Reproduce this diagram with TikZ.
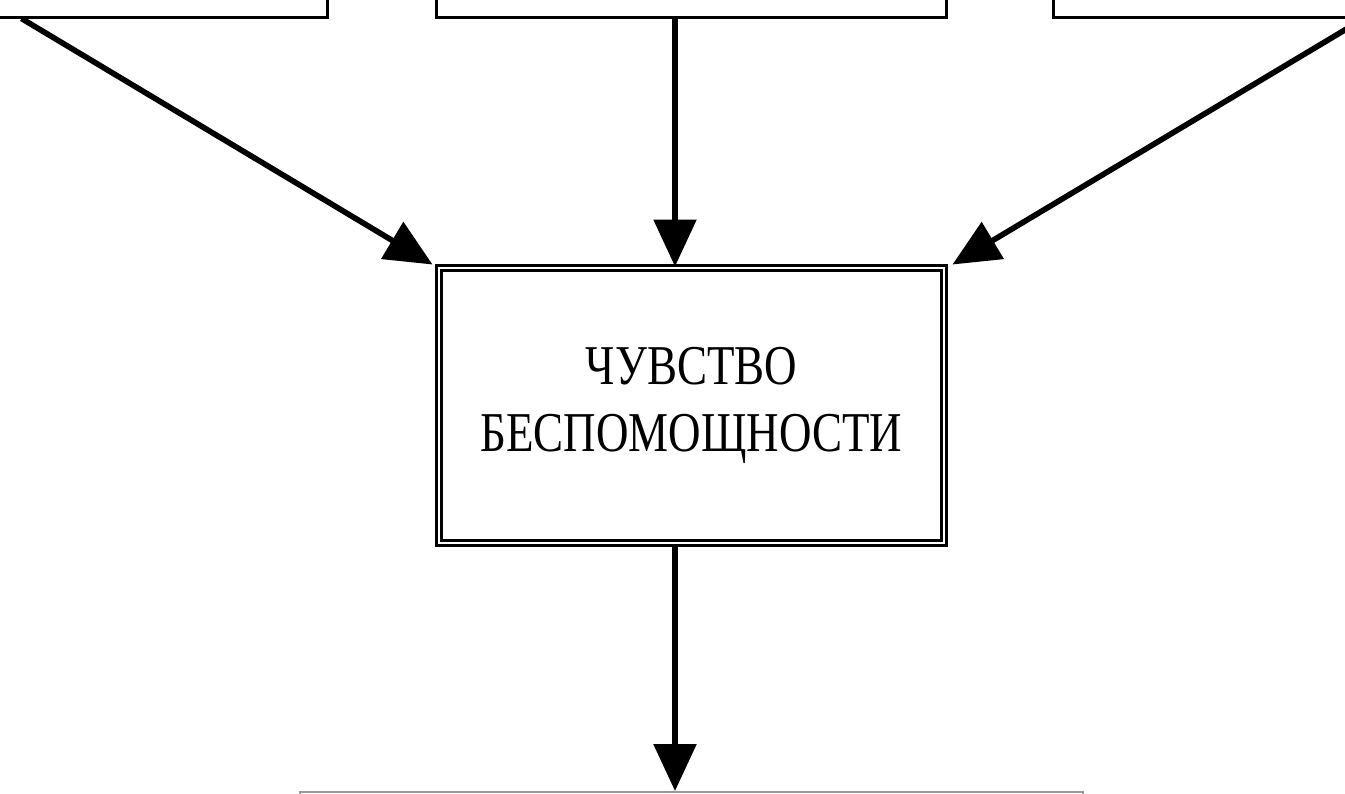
\documentclass[tikz,border=0pt]{standalone}
\usepackage{fontspec}
\usepackage{tikz}
\usetikzlibrary{arrows.meta}
\usetikzlibrary{positioning}
\newfontfamily\boxfont[FakeStretch=0.8]{Liberation Serif}

\begin{document}
\begin{tikzpicture}[
    box/.style={draw,line width=0.85pt,minimum height=1.5cm},
    dbox/.style={draw,line width=0.85pt,double,double distance=0.7pt,align=center,
      font=\boxfont\fontsize{16}{19}\selectfont},
    lbox/.style={draw=black!40,line width=0.6pt,minimum height=1.5cm}]
  \useasboundingbox (0,0) rectangle (13.45,-7.93);
  \clip (0,0) rectangle (13.45,-7.93);
  \node[box,minimum width=4.3cm,anchor=south east] (left) at (3.285,-0.185) {};
  \node[box,minimum width=5.1cm,anchor=south] (mid) at (6.915,-0.185) {};
  \node[box,minimum width=4.5cm,anchor=south west] (right) at (10.515,-0.185) {};
  \node[dbox,minimum width=5.05cm,minimum height=2.75cm] (feel) at (6.915,-4.055)
    {ЧУВСТВО\\БЕСПОМОЩНОСТИ};
  \node[lbox,minimum width=7.83cm,anchor=north] (res) at (6.915,-7.91) {};
  \path[line width=1.6pt,-{Triangle[length=0.47cm,width=0.42cm]}]
    ([xshift=-3.07cm]left.south east) edge ([xshift=-0.05cm,yshift=0.02cm]feel.north west)
    ([xshift=-0.165cm]mid.south) edge ([xshift=-0.165cm]feel.north)
    ([xshift=3.125cm]right.south west) edge ([xshift=0.07cm,yshift=0.02cm]feel.north east)
    ([xshift=-0.165cm]feel.south) edge ([xshift=-0.165cm]res.north);
\end{tikzpicture}
\end{document}
